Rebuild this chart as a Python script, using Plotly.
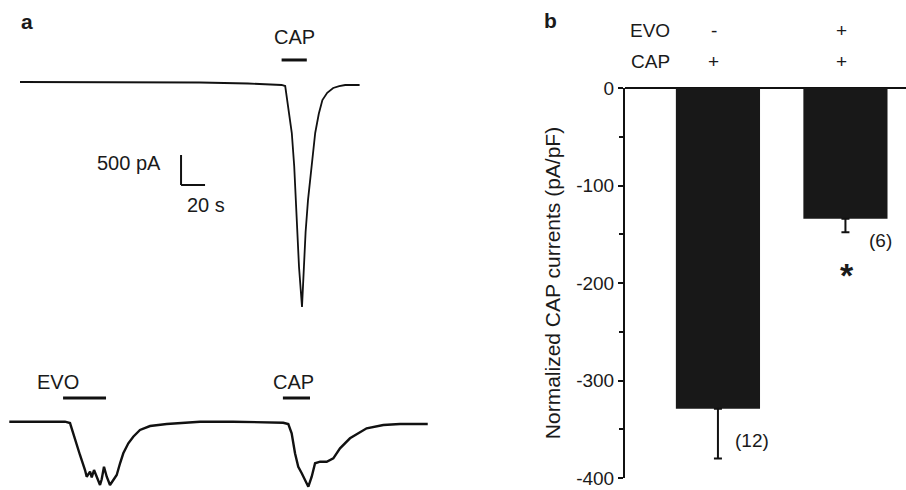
import plotly.graph_objects as go

# ---------------- data ----------------
# Panel a, top trace: CAP alone (time in s, current in pA, baseline = 0)
top_t = [0, 60, 120, 150, 190, 218, 221, 222.5, 224.5, 226.5, 228.5, 230, 232.5, 235,
         236.5, 238, 240, 243, 246, 249, 252, 256, 261, 266, 271, 283]
top_i = [0, 0, -3, -8, -25, -50, -67, -300, -560, -850, -1400, -1970, -3080, -3750,
         -3080, -2500, -1970, -1350, -850, -530, -300, -180, -100, -70, -50, -50]

# Panel a, bottom trace: EVO then CAP
bot_t = [0, 25.6, 46.4, 50.6, 52.3, 54.8, 58.9, 63.1, 64.5, 67.3, 68.7, 70.6, 72.8, 75.6,
         77.0, 78.9, 81.2, 83.9, 86.7, 89.5, 92.3, 95.0, 99.2, 103.3, 108.9, 117.3,
         131.2, 158.9, 186.4, 228.3, 232.5, 235.3, 238.1, 240.8, 243.7, 246.4, 249.2,
         252.0, 254.8, 259.0, 264.5, 270.0, 275.6, 283.9, 297.8, 311.7, 325.6, 348.7]
bot_i = [0, 0, 0, -22, -138, -305, -555, -805, -917, -833, -927, -805, -917, -1055,
         -960, -750, -917, -1055, -972, -888, -693, -527, -360, -250, -138, -72,
         -38, 0, 0, -17, -38, -193, -527, -750, -860, -972, -1083,
         -917, -693, -667, -667, -610, -443, -277, -110, -55, -38, -38]

# drug application periods (s)
cap_top_on, cap_top_off = 218, 239
evo_bot_on, evo_bot_off = 44.8, 80.6
cap_bot_on, cap_bot_off = 228, 250.6

# scale bar
scale_pA = 500
scale_s = 20

# Panel b: bar chart
bar_groups = ["CAP", "EVO + CAP"]
bar_means = [-329, -134]
bar_sem = [51, 14]
bar_n = ["(12)", "(6)"]
evo_flags = ["-", "+"]
cap_flags = ["+", "+"]
y_ticks = [0, -100, -200, -300, -400]

# ---------------- figure ----------------
FONT = "Liberation Sans, Arial, sans-serif"
W, H = 906, 490
px = lambda v: v / W
py = lambda v: 1 - v / H

fig = go.Figure()

fig.add_trace(go.Scatter(x=top_t, y=top_i, mode="lines",
                         line=dict(color="#111111", width=1.8),
                         xaxis="x", yaxis="y", showlegend=False))
fig.add_trace(go.Scatter(x=bot_t, y=bot_i, mode="lines",
                         line=dict(color="#111111", width=2.4),
                         xaxis="x2", yaxis="y2", showlegend=False))

bar_x = list(range(len(bar_groups)))
fig.add_trace(go.Bar(x=bar_x, y=bar_means, width=0.66,
                     marker=dict(color="#181818", line=dict(width=0)),
                     error_y=dict(type="data", symmetric=False,
                                  array=[0] * len(bar_sem), arrayminus=bar_sem,
                                  color="#111111", thickness=2, width=4),
                     xaxis="x3", yaxis="y3", showlegend=False))

hidden = dict(visible=False, showgrid=False, zeroline=False, automargin=False)

fig.update_layout(
    width=W, height=H, autosize=False,
    margin=dict(l=0, r=0, t=0, b=0, pad=0),
    paper_bgcolor="white", plot_bgcolor="rgba(0,0,0,0)",
    font=dict(family=FONT, size=19, color="#1a1a1a"),
    xaxis=dict(domain=[0, px(450)], range=[-16.67, 358.33], anchor="y", **hidden),
    yaxis=dict(domain=[py(320), 1], range=[-3966.7, 1366.7], anchor="x", **hidden),
    xaxis2=dict(domain=[0, px(450)], range=[-7.75, 367.25], anchor="y2", **hidden),
    yaxis2=dict(domain=[0, py(330)], range=[-1138.3, 1528.3], anchor="x2", **hidden),
    xaxis3=dict(domain=[px(625), 1], range=[-0.729, 1.475], anchor="y3", **hidden),
    yaxis3=dict(domain=[py(478), py(88)], range=[-400, 0], anchor="x3",
                automargin=False, ticklabeloverflow="allow",
                tickvals=y_ticks, ticktext=[str(v) for v in y_ticks],
                ticks="outside", ticklen=5, tickwidth=2, tickcolor="#111111",
                minor=dict(dtick=50, ticks="outside", ticklen=4, tickwidth=2,
                           tickcolor="#111111"),
                showline=True, linecolor="#111111", linewidth=2,
                showgrid=False, zeroline=True, zerolinecolor="#111111",
                zerolinewidth=2,
                tickfont=dict(size=19, family=FONT, color="#1a1a1a"),
                title=dict(text="Normalized CAP currents (pA/pF)",
                           font=dict(size=21, family=FONT, color="#1a1a1a"),
                           standoff=10)),
)

shapes = []
# drug application bars
shapes.append(dict(type="line", xref="x", yref="y", x0=cap_top_on, x1=cap_top_off,
                   y0=367, y1=367, line=dict(color="#111111", width=3)))
shapes.append(dict(type="line", xref="x2", yref="y2", x0=evo_bot_on, x1=evo_bot_off,
                   y0=395, y1=395, line=dict(color="#111111", width=3)))
shapes.append(dict(type="line", xref="x2", yref="y2", x0=cap_bot_on, x1=cap_bot_off,
                   y0=395, y1=395, line=dict(color="#111111", width=3)))
# scale bar
sb_t, sb_i = 134.2, -1717
shapes.append(dict(type="line", xref="x", yref="y", x0=sb_t, x1=sb_t,
                   y0=sb_i, y1=sb_i + scale_pA, line=dict(color="#111111", width=2)))
shapes.append(dict(type="line", xref="x", yref="y", x0=sb_t, x1=sb_t + scale_s,
                   y0=sb_i, y1=sb_i, line=dict(color="#111111", width=2)))
fig.update_layout(shapes=shapes)

ann = []
def text(x, y, s, size=19, bold=False, xanchor="center", xref="paper", yref="paper", xshift=0):
    ann.append(dict(x=x, y=y, xref=xref, yref=yref, text=f"<b>{s}</b>" if bold else s,
                    showarrow=False, xanchor=xanchor, yanchor="middle", xshift=xshift,
                    font=dict(size=size, family=FONT, color="#1a1a1a")))

text(px(27), py(22), "a", size=21, bold=True)
text(px(550), py(21), "b", size=21, bold=True)
text(px(294), py(37), "CAP", size=20)
text(px(58), py(382), "EVO", size=20)
text(px(293), py(382), "CAP", size=20)
text(px(163), py(163), f"{scale_pA} pA", size=20, xanchor="right")
text(px(206), py(205), f"{scale_s} s", size=20)

# panel b condition table
text(px(650), py(31), "EVO", size=19)
text(px(650), py(62), "CAP", size=19)
for i in range(len(bar_groups)):
    text(bar_x[i], py(31), evo_flags[i], size=19, xref="x3", xshift=-4)
    text(bar_x[i], py(62), cap_flags[i], size=19, xref="x3", xshift=-4)

# n labels and significance
text(px(752), py(440), bar_n[0], size=19)
text(px(880), py(240), bar_n[1], size=19)
text(px(847), py(275), "<b>*</b>", size=34)

fig.update_layout(annotations=ann)

fig.write_html("out.html", config={"displayModeBar": False},
               post_script="document.body.style.margin='0';document.body.style.overflow='hidden';")
